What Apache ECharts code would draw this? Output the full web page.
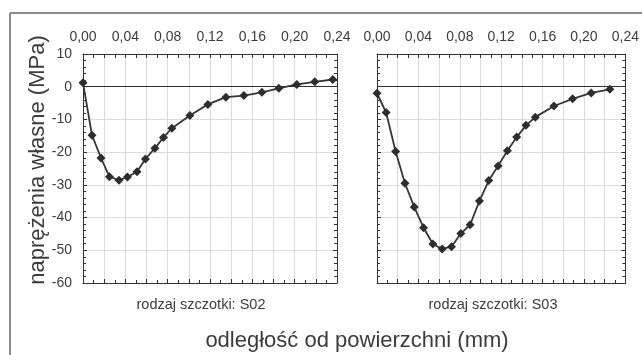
<!DOCTYPE html>
<html>
<head>
<meta charset="utf-8">
<script src="https://cdn.jsdelivr.net/npm/echarts@6/dist/echarts.min.js"></script>
<style>
  html, body { margin: 0; padding: 0; background: #fff; }
  #chart { width: 642px; height: 355px; }
</style>
</head>
<body>
<div id="chart"></div>
<script>
// szczotka S02
const s02Depth = [0, 0.0085, 0.017, 0.025, 0.034, 0.042, 0.051, 0.059, 0.068, 0.076,
  0.084, 0.101, 0.118, 0.135, 0.152, 0.169, 0.185, 0.202, 0.219, 0.236];
const s02Stress = [1.2, -14.8, -21.8, -27.5, -28.6, -27.6, -26.0, -22.1, -18.8, -15.5,
  -12.7, -8.8, -5.4, -3.2, -2.7, -1.7, -0.5, 0.7, 1.5, 2.2];

// szczotka S03
const s03Depth = [0, 0.0088, 0.018, 0.027, 0.036, 0.045, 0.054, 0.063, 0.072, 0.081,
  0.090, 0.099, 0.108, 0.117, 0.126, 0.135, 0.144, 0.153, 0.171, 0.189, 0.207, 0.225];
const s03Stress = [-2.0, -7.9, -19.8, -29.5, -36.8, -43.1, -48.1, -49.6, -48.9, -44.9,
  -42.2, -34.9, -28.7, -24.2, -19.6, -15.4, -11.8, -9.3, -5.9, -3.7, -1.9, -0.8];

const panelLabels = ['rodzaj szczotki: S02', 'rodzaj szczotki: S03'];
const yTitle = 'naprężenia własne (MPa)';
const xTitle = 'odległość od powierzchni (mm)';

const chart = echarts.init(document.getElementById('chart'));

const textColor = '#3c3c3c';
const font = 'Liberation Sans, Arial, sans-serif';

const grids = [
  { left: 83, top: 54, width: 254, height: 229 },
  { left: 377, top: 54, width: 253, height: 229 },
];

const tickStyle = {
  axisTick: { show: true, inside: true, length: 4, lineStyle: { color: '#333' } },
  axisLine: { show: true, onZero: false, lineStyle: { color: '#333', width: 1 } },
};

// etykiety co 0,04 z przecinkiem
const xFmt = v => {
  const k = Math.round(v * 100);
  return k % 4 === 0 ? v.toFixed(2).replace('.', ',') : '';
};

const xAxes = [];
const yAxes = [];
[0, 1].forEach(g => {
  xAxes.push({
    type: 'value', gridIndex: g, position: 'top', min: 0, max: 0.24, interval: 0.02,
    ...tickStyle,
    minorTick: { show: true, splitNumber: 2, length: 4, lineStyle: { color: '#333' } },
    axisLabel: { formatter: xFmt, color: textColor, fontSize: 14, fontFamily: font, margin: 10, showMaxLabel: true, showMinLabel: true },
    splitLine: { show: true, lineStyle: { color: '#dcdcdc', width: 1 } },
  });
  xAxes.push({
    type: 'value', gridIndex: g, position: 'bottom', min: 0, max: 0.24, interval: 0.02,
    ...tickStyle,
    minorTick: { show: true, splitNumber: 2, length: 3, lineStyle: { color: '#333' } },
    axisLabel: { show: false },
    splitLine: { show: false },
  });
  yAxes.push({
    type: 'value', gridIndex: g, position: 'left', min: -60, max: 10, interval: 10,
    ...tickStyle,
    minorTick: { show: true, splitNumber: 5, length: 3, lineStyle: { color: '#333' } },
    axisLabel: { show: g === 0, color: textColor, fontSize: 14, fontFamily: font, margin: 11 },
    splitLine: { show: true, lineStyle: { color: '#dcdcdc', width: 1 } },
  });
  yAxes.push({
    type: 'value', gridIndex: g, position: 'right', min: -60, max: 10, interval: 10,
    ...tickStyle,
    minorTick: { show: true, splitNumber: 5, length: 3, lineStyle: { color: '#333' } },
    axisLabel: { show: false },
    splitLine: { show: false },
  });
});

const makeSeries = (depth, stress, g) => ({
  type: 'line',
  xAxisIndex: g * 2,
  yAxisIndex: g * 2,
  data: depth.map((d, i) => [d, stress[i]]),
  symbol: 'diamond',
  symbolSize: 9,
  showSymbol: true,
  itemStyle: { color: '#2e2e2e' },
  lineStyle: { color: '#363636', width: 1.8 },
  z: 5,
  markLine: {
    silent: true,
    symbol: 'none',
    label: { show: false },
    lineStyle: { color: '#333', type: 'solid', width: 1 },
    data: [{ yAxis: 0 }],
    z: 3,
  },
});

const option = {
  animation: false,
  backgroundColor: '#fff',
  grid: grids,
  xAxis: xAxes,
  yAxis: yAxes,
  series: [
    makeSeries(s02Depth, s02Stress, 0),
    makeSeries(s03Depth, s03Stress, 1),
  ],
  graphic: [
    // ramka rysunku
    { type: 'line', shape: { x1: 10, y1: 13, x2: 642, y2: 13 }, style: { stroke: '#8a8a8a', lineWidth: 2 } },
    { type: 'line', shape: { x1: 10, y1: 13, x2: 10, y2: 355 }, style: { stroke: '#8a8a8a', lineWidth: 2 } },
    {
      type: 'text', x: 38, y: 160, rotation: Math.PI / 2,
      style: { text: yTitle, fill: textColor, font: '22px ' + font, align: 'center', verticalAlign: 'middle' },
    },
    {
      type: 'text', x: 357, y: 341,
      style: { text: xTitle, fill: textColor, font: '22px ' + font, align: 'center', verticalAlign: 'middle' },
    },
    {
      type: 'text', x: 201, y: 305,
      style: { text: panelLabels[0], fill: textColor, font: '14.5px ' + font, align: 'center', verticalAlign: 'middle' },
    },
    {
      type: 'text', x: 493, y: 305,
      style: { text: panelLabels[1], fill: textColor, font: '14.5px ' + font, align: 'center', verticalAlign: 'middle' },
    },
  ],
};

chart.setOption(option);
</script>
</body>
</html>
